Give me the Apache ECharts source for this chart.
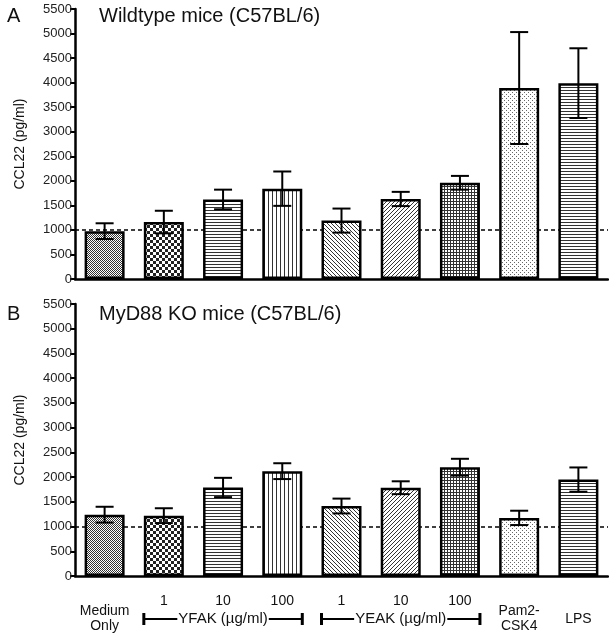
<!DOCTYPE html>
<html>
<head>
<meta charset="utf-8">
<script src="https://cdn.jsdelivr.net/npm/echarts@6/dist/echarts.min.js"></script>
<style>html,body{margin:0;padding:0;background:#fff;}#c{width:609px;height:639px;}</style>
</head>
<body>
<div id="c"></div>
<script>
// ---- data ----
var categories = ['Medium Only', 'YFAK 1', 'YFAK 10', 'YFAK 100', 'YEAK 1', 'YEAK 10', 'YEAK 100', 'Pam2-CSK4', 'LPS'];
var wtMean = [975, 1160, 1620, 1840, 1190, 1630, 1960, 3890, 3990];
var wtErr  = [160, 230, 200, 350, 245, 145, 140, 1140, 710];
var koMean = [1240, 1220, 1790, 2120, 1415, 1785, 2200, 1175, 1950];
var koErr  = [160, 150, 195, 160, 150, 130, 170, 145, 245];
var yTicks = [0, 500, 1000, 1500, 2000, 2500, 3000, 3500, 4000, 4500, 5000, 5500];
var doseLabels = ['', '1', '10', '100', '1', '10', '100', '', ''];
var nameLabels = ['Medium\nOnly', '', '', '', '', '', '', 'Pam2-\nCSK4', 'LPS'];
var groups = [{text: 'YFAK (µg/ml)', from: 1, to: 3}, {text: 'YEAK (µg/ml)', from: 4, to: 6}];
var baseline = 1000;
var panelLetters = ['A', 'B'];
var panelTitles = ['Wildtype mice (C57BL/6)', 'MyD88 KO mice (C57BL/6)'];
var yName = 'CCL22 (pg/ml)';
var patternTypes = ['fine', 'checker', 'hlines', 'vlines', 'diagBack', 'diagFwd', 'grid', 'stipple', 'hlines'];

// ---- patterns ----
function makePattern(type) {
  var s = 4;
  if (type === 'fine') s = 2;
  if (type === 'checker') s = 6;
  if (type === 'hlines' || type === 'grid') s = 3;
  var c = document.createElement('canvas');
  c.width = s; c.height = s;
  var g = c.getContext('2d');
  g.fillStyle = '#fff'; g.fillRect(0, 0, s, s);
  g.fillStyle = '#222';
  if (type === 'fine') { g.fillStyle = '#333'; g.fillRect(0, 0, 1, 1); g.fillRect(1, 1, 1, 1); }
  else if (type === 'checker') { g.fillRect(0, 0, 3, 3); g.fillRect(3, 3, 3, 3); }
  else if (type === 'hlines') { g.fillStyle = '#333'; g.fillRect(0, 0, s, 1); }
  else if (type === 'vlines') { g.fillStyle = '#333'; g.fillRect(0, 0, 1, s); }
  else if (type === 'diagBack') { g.fillStyle = '#333'; for (var i = 0; i < s; i++) g.fillRect(i, i, 1, 1); }
  else if (type === 'diagFwd') { g.fillStyle = '#333'; for (var j = 0; j < s; j++) g.fillRect(j, s - 1 - j, 1, 1); }
  else if (type === 'grid') { g.fillStyle = '#333'; g.fillRect(0, 0, s, 1); g.fillRect(0, 0, 1, s); }
  else if (type === 'stipple') { g.fillStyle = '#666'; g.fillRect(0, 0, 1, 1); g.fillRect(2, 2, 1, 1); }
  return {image: c, repeat: 'repeat'};
}

function barData(means) {
  return means.map(function (v, i) {
    return {value: v, itemStyle: {color: makePattern(patternTypes[i])}};
  });
}
function errData(means, errs) {
  return means.map(function (v, i) { return [i, v, errs[i]]; });
}
function renderErr(params, api) {
  var i = api.value(0), m = api.value(1), e = api.value(2);
  var hi = api.coord([i, m + e]);
  var lo = api.coord([i, m - e]);
  var hw = 9;
  var st = {stroke: '#000', lineWidth: 2};
  return {type: 'group', children: [
    {type: 'line', shape: {x1: hi[0], y1: hi[1], x2: lo[0], y2: lo[1]}, style: st},
    {type: 'line', shape: {x1: hi[0] - hw, y1: hi[1], x2: hi[0] + hw, y2: hi[1]}, style: st},
    {type: 'line', shape: {x1: lo[0] - hw, y1: lo[1], x2: lo[0] + hw, y2: lo[1]}, style: st}
  ]};
}

var FONT = 'Liberation Sans, Arial, Helvetica, sans-serif';
var grids = [
  {left: 75, right: 1, top: 9, height: 270},
  {left: 75, right: 1, top: 304, height: 272}
];
function xAxis(idx) {
  return {
    type: 'category', gridIndex: idx, data: categories,
    axisLine: {lineStyle: {color: '#000', width: 2.5}},
    axisTick: {alignWithLabel: true, length: 5, lineStyle: {color: '#000', width: 2}},
    axisLabel: {show: false}
  };
}
function yAxis(idx) {
  return {
    type: 'value', gridIndex: idx, min: 0, max: 5500, interval: 500,
    name: yName, nameLocation: 'middle', nameGap: 48,
    nameTextStyle: {fontFamily: FONT, fontSize: 14, color: '#111'},
    axisLine: {show: true, lineStyle: {color: '#000', width: 2.5}},
    axisTick: {show: true, length: 5, lineStyle: {color: '#000', width: 2}},
    axisLabel: {fontFamily: FONT, fontSize: 13, color: '#222', margin: 3,
      formatter: function (v) { return yTicks.indexOf(v) >= 0 ? String(v) : ''; }},
    splitLine: {show: false}
  };
}
function series(idx, means, errs) {
  return [
    {
      type: 'bar', xAxisIndex: idx, yAxisIndex: idx, barWidth: 40, z: 2,
      data: barData(means),
      itemStyle: {borderColor: '#000', borderWidth: 2.5},
      silent: true,
      markLine: {
        z: 1, silent: true, symbol: ['none', 'none'], label: {show: false},
        lineStyle: {color: '#000', type: [4, 3], width: 1.6},
        data: [{yAxis: baseline}]
      }
    },
    {
      type: 'custom', xAxisIndex: idx, yAxisIndex: idx, z: 5,
      renderItem: renderErr, encode: {x: 0, y: 1},
      data: errData(means, errs)
    }
  ];
}

var chart = echarts.init(document.getElementById('c'), null, {renderer: 'canvas'});
var titles = [];
for (var p = 0; p < 2; p++) {
  var ty = p === 0 ? 1 : 299;
  titles.push({text: panelLetters[p], left: 2, top: ty, textStyle: {fontFamily: FONT, fontSize: 20, fontWeight: 'normal', color: '#111'}});
  titles.push({text: panelTitles[p], left: 94, top: ty, textStyle: {fontFamily: FONT, fontSize: 20, fontWeight: 'normal', color: '#111'}});
}
chart.setOption({
  animation: false,
  backgroundColor: '#fff',
  title: titles,
  grid: grids,
  xAxis: [xAxis(0), xAxis(1)],
  yAxis: [yAxis(0), yAxis(1)],
  series: series(0, wtMean, wtErr).concat(series(1, koMean, koErr))
});

// x labels and group brackets under the lower panel
var y0 = chart.convertToPixel({yAxisIndex: 1}, 0);
var gfx = [];
var tstyle = function (t, x, y) {
  return {type: 'text', x: x, y: y, style: {text: t, fontFamily: FONT, fontSize: 14, fill: '#111', align: 'center', verticalAlign: 'middle', lineHeight: 15}};
};
for (var i = 0; i < categories.length; i++) {
  var cx = chart.convertToPixel({xAxisIndex: 1}, i);
  if (doseLabels[i]) gfx.push(tstyle(doseLabels[i], cx, y0 + 25));
  if (nameLabels[i]) gfx.push(tstyle(nameLabels[i], cx, y0 + 43));
}
groups.forEach(function (gr) {
  var xa = chart.convertToPixel({xAxisIndex: 1}, gr.from) - 20;
  var xb = chart.convertToPixel({xAxisIndex: 1}, gr.to) + 20;
  var xm = chart.convertToPixel({xAxisIndex: 1}, (gr.from + gr.to) / 2);
  var by = y0 + 43;
  gfx.push({type: 'line', shape: {x1: xa, y1: by, x2: xb, y2: by}, style: {stroke: '#000', lineWidth: 2}});
  gfx.push({type: 'line', shape: {x1: xa, y1: by - 6, x2: xa, y2: by + 6}, style: {stroke: '#000', lineWidth: 3}});
  gfx.push({type: 'line', shape: {x1: xb, y1: by - 6, x2: xb, y2: by + 6}, style: {stroke: '#000', lineWidth: 3}});
  var t = tstyle(gr.text, xm, by);
  t.style.fontSize = 15;
  t.style.backgroundColor = '#fff';
  t.style.padding = [0, 1];
  t.z = 10;
  gfx.push(t);
});
chart.setOption({graphic: gfx});
</script>
</body>
</html>
